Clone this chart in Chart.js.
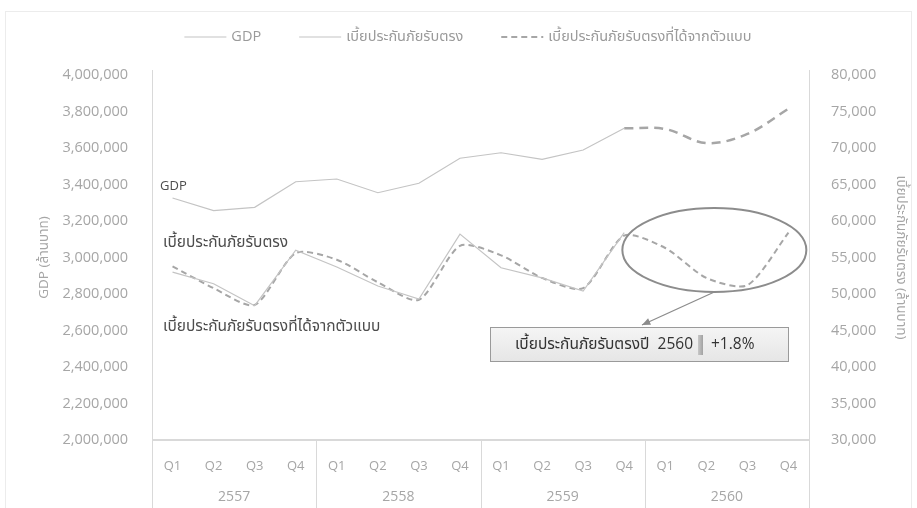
<!DOCTYPE html>
<html>
<head>
<meta charset="utf-8">
<script src="https://cdn.jsdelivr.net/npm/chart.js@4.4.1/dist/chart.umd.min.js"></script>
<style>
  html, body { margin: 0; padding: 0; background: #fff; }
</style>
</head>
<body>
<canvas id="myChart" width="917" height="508"></canvas>
<script>
/* ข้อมูลของกราฟ */
var quarters = ['Q1', 'Q2', 'Q3', 'Q4', 'Q1', 'Q2', 'Q3', 'Q4', 'Q1', 'Q2', 'Q3', 'Q4', 'Q1', 'Q2', 'Q3', 'Q4'];
var years = ['2557', '2558', '2559', '2560'];

// GDP (ล้านบาท) - ปี 2560 เป็นค่าประมาณ
var gdp = [3326000, 3257000, 3275000, 3415000, 3430000, 3355000, 3407000, 3544000,
           3574000, 3538000, 3589000, 3708000, 3704000, 3627000, 3677000, 3815000];
// เบี้ยประกันภัยรับตรง (ล้านบาท)
var premium = [53000, 51400, 48400, 56000, 53700, 51100, 49300, 58200,
               53600, 52200, 50400, 58400, null, null, null, null];
// เบี้ยประกันภัยรับตรงที่ได้จากตัวแบบ
var premiumModel = [53800, 50800, 48500, 55600, 54700, 51600, 49200, 56600,
                    55300, 52200, 50800, 58000, 56300, 52200, 51200, 58400];

var gdpMin = 2000000, gdpMax = 4000000, gdpStep = 200000;
var premMin = 30000, premMax = 80000, premStep = 5000;
var forecastFrom = 11;

var FONT = "'Open Sans', 'Noto Sans', 'Noto Sans Thai', 'Loma', 'Garuda', sans-serif";

function fmt(v) {
  return Number(v).toLocaleString('en-US');
}

/* วาดส่วนประกอบเพิ่มเติม: คำอธิบาย, เส้นแบ่งปี, วงรี, กล่องข้อความ */
var extras = {
  id: 'extras',
  afterDraw: function (chart) {
    var c = chart.ctx;
    var a = chart.chartArea;
    var xs = chart.scales.x;
    var H = chart.height;
    c.save();

    // กรอบจางๆ
    c.strokeStyle = '#ececec';
    c.lineWidth = 1;
    c.strokeRect(5.5, 11.5, chart.width - 11, H);

    // เส้นแกน
    c.strokeStyle = '#d9d9d9';
    c.lineWidth = 1;
    c.beginPath();
    c.moveTo(a.left + 0.5, a.top - 5); c.lineTo(a.left + 0.5, H);
    c.moveTo(a.right + 0.5, a.top - 5); c.lineTo(a.right + 0.5, H);
    c.stroke();
    c.lineWidth = 2;
    c.beginPath();
    c.moveTo(a.left, a.bottom); c.lineTo(a.right, a.bottom);
    c.stroke();

    // เส้นแบ่งปีและป้ายปี
    var step = xs.getPixelForValue(1) - xs.getPixelForValue(0);
    c.lineWidth = 1;
    c.fillStyle = '#a6a6a6';
    c.font = '14px ' + FONT;
    c.textAlign = 'center';
    c.textBaseline = 'middle';
    years.forEach(function (y, i) {
      var x0 = xs.getPixelForValue(i * 4) - step / 2;
      var x1 = xs.getPixelForValue(i * 4 + 3) + step / 2;
      if (i > 0) {
        c.beginPath();
        c.moveTo(Math.round(x0) + 0.5, a.bottom);
        c.lineTo(Math.round(x0) + 0.5, H);
        c.stroke();
      }
      c.fillText(y, (x0 + x1) / 2, 497);
    });

    // คำอธิบายสัญลักษณ์ด้านบน
    var items = chart.data.datasets.filter(function (d) { return !d.hideLegend; });
    c.font = '14.5px ' + FONT;
    c.textAlign = 'left';
    var lineLen = 42, gap = 5, itemGap = 38;
    var total = 0;
    items.forEach(function (d, i) {
      total += lineLen + gap + c.measureText(d.label).width + (i ? itemGap : 0);
    });
    var lx = 468 - total / 2;
    var ly = 37;
    items.forEach(function (d) {
      c.strokeStyle = d.borderColor;
      c.lineWidth = d.borderWidth;
      c.setLineDash(d.borderDash || []);
      c.beginPath();
      c.moveTo(lx, ly); c.lineTo(lx + lineLen, ly);
      c.stroke();
      c.setLineDash([]);
      c.fillStyle = '#9a9a9a';
      c.fillText(d.label, lx + lineLen + gap, ly);
      lx += lineLen + gap + c.measureText(d.label).width + itemGap;
    });

    // ป้ายชื่อเส้นในกราฟ
    c.fillStyle = '#4d4d4d';
    c.font = '13px ' + FONT;
    c.fillText('GDP', 160, 186);
    c.font = '15.5px ' + FONT;
    c.fillText('เบี้ยประกันภัยรับตรง', 163, 243);
    c.fillText('เบี้ยประกันภัยรับตรงที่ได้จากตัวแบบ', 163, 327);

    // วงรีรอบค่าพยากรณ์ปี 2560
    var cx = (xs.getPixelForValue(11) + xs.getPixelForValue(15)) / 2 + 8;
    c.strokeStyle = '#8c8c8c';
    c.lineWidth = 2;
    c.beginPath();
    c.ellipse(cx, 250, 92, 42, 0, 0, Math.PI * 2);
    c.stroke();

    // ลูกศรชี้กล่อง
    var ax0 = cx, ay0 = 292, ax1 = 642, ay1 = 325;
    c.lineWidth = 1.3;
    c.beginPath();
    c.moveTo(ax0, ay0); c.lineTo(ax1, ay1);
    c.stroke();
    var ang = Math.atan2(ay1 - ay0, ax1 - ax0);
    c.fillStyle = '#8c8c8c';
    c.beginPath();
    c.moveTo(ax1, ay1);
    c.lineTo(ax1 - 9 * Math.cos(ang - 0.4), ay1 - 9 * Math.sin(ang - 0.4));
    c.lineTo(ax1 - 9 * Math.cos(ang + 0.4), ay1 - 9 * Math.sin(ang + 0.4));
    c.closePath();
    c.fill();

    // กล่องข้อความ
    var bx = 490, by = 327, bw = 298, bh = 34;
    var g = c.createLinearGradient(0, by, 0, by + bh);
    g.addColorStop(0, '#f5f5f5');
    g.addColorStop(1, '#e6e6e6');
    c.fillStyle = g;
    c.fillRect(bx, by, bw, bh);
    c.strokeStyle = '#9a9a9a';
    c.lineWidth = 1;
    c.strokeRect(bx + 0.5, by + 0.5, bw, bh);
    c.fillStyle = '#333';
    c.font = '15.5px ' + FONT;
    c.textAlign = 'right';
    c.fillText('เบี้ยประกันภัยรับตรงปี  2560', 693, 345);
    var bg = c.createLinearGradient(698, 0, 704, 0);
    bg.addColorStop(0, '#c8c8c8');
    bg.addColorStop(1, '#9a9a9a');
    c.fillStyle = bg;
    c.fillRect(698, 335, 5, 20);
    c.fillStyle = '#333';
    c.textAlign = 'left';
    c.font = '15.5px ' + FONT;
    c.fillText('+1.8%', 711, 345);

    c.restore();
  }
};

var ctx = document.getElementById('myChart').getContext('2d');
var myChart = new Chart(ctx, {
  type: 'line',
  data: {
    labels: quarters,
    datasets: [
      {
        label: 'GDP',
        data: gdp.map(function (v, i) { return i <= forecastFrom ? v : null; }),
        yAxisID: 'y',
        borderColor: '#c4c4c4',
        borderWidth: 1.2,
        pointRadius: 0,
        tension: 0
      },
      {
        label: 'GDP forecast',
        hideLegend: true,
        data: gdp.map(function (v, i) { return i >= forecastFrom ? v : null; }),
        yAxisID: 'y',
        borderColor: '#a6a6a6',
        borderWidth: 2.5,
        borderDash: [9, 6],
        pointRadius: 0,
        tension: 0.35
      },
      {
        label: 'เบี้ยประกันภัยรับตรง',
        data: premium,
        yAxisID: 'y1',
        borderColor: '#c4c4c4',
        borderWidth: 1.2,
        pointRadius: 0,
        tension: 0
      },
      {
        label: 'เบี้ยประกันภัยรับตรงที่ได้จากตัวแบบ',
        data: premiumModel,
        yAxisID: 'y1',
        borderColor: '#a6a6a6',
        borderWidth: 2,
        borderDash: [6, 4],
        pointRadius: 0,
        tension: 0.25
      }
    ]
  },
  options: {
    responsive: false,
    animation: false,
    devicePixelRatio: 1,
    layout: { padding: { top: 75, left: 0, right: 0, bottom: 0 } },
    plugins: {
      legend: { display: false },
      tooltip: { enabled: false }
    },
    scales: {
      x: {
        offset: true,
        grid: { display: false, drawTicks: false },
        border: { display: false },
        ticks: {
          color: '#a6a6a6',
          padding: 18,
          font: { family: FONT, size: 13 }
        },
        afterFit: function (s) { s.height = 68; }
      },
      y: {
        position: 'left',
        min: gdpMin,
        max: gdpMax,
        grid: { display: false, drawTicks: false },
        border: { display: false },
        ticks: {
          stepSize: gdpStep,
          color: '#a6a6a6',
          padding: 24,
          font: { family: FONT, size: 14.5 },
          callback: function (v) { return fmt(v); }
        },
        title: {
          display: true,
          text: 'GDP (ล้านบาท)',
          color: '#a6a6a6',
          padding: { top: 36, bottom: 0 },
          font: { family: FONT, size: 13.5 }
        },
        afterFit: function (s) { s.width = 152; }
      },
      y1: {
        position: 'right',
        min: premMin,
        max: premMax,
        grid: { display: false, drawTicks: false },
        border: { display: false },
        ticks: {
          stepSize: premStep,
          color: '#a6a6a6',
          padding: 22,
          font: { family: FONT, size: 14.5 },
          callback: function (v) { return fmt(v); }
        },
        title: {
          display: true,
          text: 'เบี้ยประกันภัยรับตรง (ล้านบาท)',
          color: '#a6a6a6',
          padding: { top: 8, bottom: 0 },
          font: { family: FONT, size: 13.5 }
        },
        afterFit: function (s) { s.width = 108; }
      }
    }
  },
  plugins: [extras]
});
</script>
</body>
</html>
